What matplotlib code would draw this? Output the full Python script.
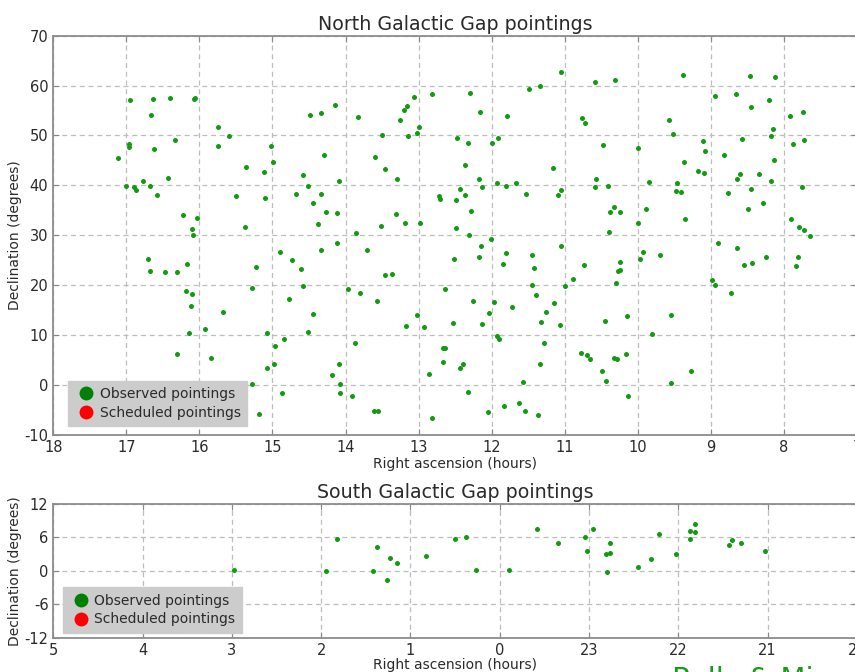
import matplotlib
matplotlib.use('Agg')
import matplotlib.pyplot as plt
from matplotlib.lines import Line2D

plt.rcParams['axes.unicode_minus'] = False

# North Galactic Gap pointings: right ascension (hours), declination (degrees)
north_ra = [
    17.11, 17.01, 16.95, 16.96, 16.96, 16.89, 16.87, 16.77, 16.67, 16.66,
    16.63, 16.62, 16.58, 16.43, 16.40, 16.34, 16.23, 16.10, 16.09, 16.08,
    16.06, 16.03, 15.75, 15.75, 15.60, 15.50, 15.36, 15.37, 15.12, 15.10,
    15.02, 14.99, 14.68, 14.58, 14.52, 14.49, 14.45, 14.38, 14.33, 14.33,
    14.29, 14.27, 14.14, 14.12, 14.09, 14.12, 13.85, 13.83, 13.59, 13.50,
    13.51, 13.46, 13.30, 13.31, 13.25, 13.20, 13.16, 13.19, 13.14, 13.06,
    13.02, 13.00, 12.98,
    12.82, 12.72, 12.71, 12.49, 12.48, 12.49, 12.44, 12.37, 12.36, 12.33,
    12.30, 12.31, 12.28, 12.17, 12.16, 12.13, 12.14, 12.01, 11.99, 11.91,
    11.92, 11.80, 11.79, 11.67, 11.53, 11.49, 11.34, 11.16, 11.09, 11.05,
    11.05, 11.05, 10.76, 10.72, 10.59, 10.57, 10.58, 10.48, 10.41, 10.40,
    10.38, 10.32, 10.25, 10.31, 10.00, 10.00, 9.89, 9.84, 9.57, 9.52,
    9.46, 9.48, 9.41, 9.38, 9.37, 9.35, 9.18, 9.11, 9.10, 9.08,
    8.94, 8.90, 8.82, 8.77, 8.65, 8.64, 8.64, 8.60, 8.57, 8.49,
    8.46, 8.45, 8.45, 8.34, 8.29, 8.21, 8.18, 8.17, 8.15, 8.14,
    8.12, 7.92, 7.90, 7.87, 7.80, 7.72, 7.75, 7.74, 7.73, 7.64,
    16.70, 16.68, 16.47, 16.31, 16.31, 16.17, 16.19, 16.10, 16.12, 16.14,
    15.93, 15.84, 15.68, 15.28, 15.23, 15.28, 15.18, 15.08, 15.08, 14.98,
    14.97, 14.90, 14.87, 14.84, 14.78, 14.73, 14.61, 14.58, 14.51, 14.44,
    14.34, 14.18, 14.09, 14.08, 14.08, 13.96, 13.91, 13.87, 13.80, 13.71,
    13.61, 13.55, 13.57, 13.46, 13.36, 13.17, 13.02, 12.93, 12.86,
    12.82, 12.64, 12.67, 12.64, 12.67, 12.52, 12.53, 12.43, 12.39, 12.32,
    12.26, 12.17, 12.13, 12.04, 12.05, 11.97, 11.92, 11.90, 11.85, 11.83,
    11.81, 11.72, 11.62, 11.57, 11.54, 11.45, 11.45, 11.42, 11.39, 11.37,
    11.34, 11.33, 11.29, 11.25, 11.14, 11.07, 10.99, 10.88, 10.78, 10.74,
    10.70, 10.66, 10.49, 10.45, 10.43, 10.33, 10.29, 10.30, 10.27, 10.24,
    10.25, 10.16, 10.15, 10.14, 9.97, 9.93, 9.80, 9.69, 9.54, 9.54,
    9.27, 8.98, 8.94, 8.73, 8.54, 8.44, 8.25, 7.84, 7.81,
]
north_dec = [
    45.5, 39.9, 57.1, 48.2, 47.7, 39.6, 39.0, 40.9, 39.8, 54.0,
    57.4, 47.3, 38.1, 41.5, 57.6, 49.0, 34.1, 31.3, 30.0, 57.4,
    57.5, 33.4, 51.6, 47.8, 49.9, 37.9, 43.6, 31.7, 42.6, 37.5,
    47.8, 44.7, 38.3, 42.0, 39.9, 54.1, 36.4, 32.3, 54.4, 38.3,
    46.1, 34.7, 56.2, 34.5, 40.9, 28.4, 30.5, 53.6, 45.6, 50.1,
    31.8, 43.3, 41.2, 34.3, 53.0, 55.2, 55.9, 32.4, 49.9, 57.8,
    50.4, 51.6, 32.4,
    58.4, 37.8, 37.3, 37.0, 49.5, 31.5, 39.2, 44.1, 38.1, 48.5,
    58.6, 30.1, 34.8, 41.3, 54.7, 39.7, 27.8, 29.2, 48.4, 49.5,
    40.5, 39.9, 53.9, 40.5, 38.2, 59.4, 60.0, 43.5, 38.1, 39.0,
    62.7, 27.9, 53.4, 52.5, 60.8, 41.2, 39.6, 48.0, 39.8, 30.7,
    34.6, 35.7, 34.7, 61.2, 47.4, 32.4, 35.2, 40.6, 53.1, 50.2,
    40.4, 38.9, 38.7, 62.2, 44.7, 33.3, 42.8, 48.8, 42.5, 46.8,
    57.9, 28.5, 46.1, 38.5, 58.4, 41.3, 27.5, 42.3, 49.2, 35.3,
    61.9, 55.8, 39.2, 42.3, 36.5, 57.2, 40.8, 49.8, 51.3, 45.0,
    61.7, 53.8, 33.2, 48.2, 31.7, 31.1, 39.6, 54.7, 49.0, 29.9,
    25.2, 22.8, 22.7, 22.7, 6.1, 24.2, 18.8, 18.2, 15.8, 10.3,
    11.1, 5.3, 14.7, 19.4, 23.6, 0.1, -5.8, 10.3, 3.3, 4.1,
    7.7, 26.7, -1.6, 9.1, 17.3, 25.0, 23.2, 19.8, 10.5, 14.3,
    27.1, 1.9, 4.1, 0.1, -1.6, 19.2, -2.3, 8.4, 18.5, 27.1,
    -5.3, -5.3, 16.8, 22.1, 22.2, 11.8, 14.1, 11.6, 2.2,
    -6.7, 19.3, 7.4, 7.3, 4.6, 25.2, 12.3, 3.4, 4.1, -1.4,
    16.8, 25.7, 12.1, 14.4, -5.5, 16.6, 9.7, 9.1, 24.2, -4.2,
    26.5, 15.7, -3.6, 0.5, -5.2, 26.1, 20.0, 23.5, 18.0, -6.0,
    4.1, 12.5, 8.4, 14.6, 16.4, 11.9, 19.8, 21.2, 6.3, 24.0,
    6.0, 5.1, 2.8, 12.8, 0.7, 5.4, 5.1, 20.5, 22.8, 23.0,
    24.7, 6.2, 13.8, -2.3, 25.2, 26.6, 10.2, 26.0, 14.1, 0.4,
    2.7, 21.1, 20.0, 18.5, 24.1, 24.5, 25.6, 23.9, 25.7,
]

# South Galactic Gap pointings
south_ra = [
    2.98, 1.95, 1.82, 1.42, 1.37, 1.26, 1.23, 1.15, 0.83, 0.50,
    0.38, 0.27, 23.90, 23.58, 23.35, 23.04, 23.02, 22.96, 22.81, 22.77,
    22.77, 22.80, 22.45, 22.31, 22.22, 22.03, 21.87, 21.87, 21.81, 21.81,
    21.43, 21.40, 21.30, 21.03,
]
south_dec = [
    0.2, 0.05, 5.8, 0.0, 4.3, -1.6, 2.3, 1.5, 2.6, 5.8,
    6.0, 0.2, 0.2, 7.5, 5.1, 6.1, 3.5, 7.6, 3.1, 3.3,
    5.0, -0.1, 0.7, 2.2, 6.7, 3.1, 7.2, 5.8, 6.9, 8.5,
    4.7, 5.6, 5.0, 3.6,
]

north_xticks = list(range(18, 6, -1))
north_yticks = list(range(-10, 71, 10))
south_xticks = [5, 4, 3, 2, 1, 0, 23, 22, 21, 20]
south_yticks = [-12, -6, 0, 6, 12]

TEXT = '#2a2a2a'
DOT = '#139a13'


def unwrap(h):
    # keep RA continuous across 0h so the south panel runs 5 -> 20
    return h if h < 12 else h - 24


def style(ax):
    ax.grid(True, linestyle='--', color='#bdbdbd', linewidth=0.9, dashes=(4, 3))
    ax.set_axisbelow(True)
    ax.tick_params(direction='in', top=True, right=True, length=4,
                   color='#888888', labelsize=10.5, labelcolor=TEXT)
    for s in ax.spines.values():
        s.set_color('#8c8c8c')
        s.set_linewidth(1.3)


def add_legend(ax, anchor):
    handles = [
        Line2D([], [], marker='o', ls='', color='#008000', ms=9,
               label='Observed pointings'),
        Line2D([], [], marker='o', ls='', color='#ff0000', ms=9,
               label='Scheduled pointings'),
    ]
    leg = ax.legend(handles=handles, loc='lower left', bbox_to_anchor=anchor,
                    borderaxespad=0, facecolor='#cccccc', edgecolor='#cccccc',
                    framealpha=1, fancybox=False, fontsize=10,
                    handletextpad=0.2, handlelength=1.6, borderpad=0.45,
                    labelspacing=0.35)
    for t in leg.get_texts():
        t.set_color(TEXT)


fig = plt.figure(figsize=(8.55, 6.72), dpi=100)

ax1 = fig.add_axes([0.0623, 0.3531, 0.940, 0.5938])
ax1.plot(north_ra, north_dec, 'o', color=DOT, ms=3.6, mew=0)
ax1.set_xlim(18, 7)
ax1.set_ylim(-10, 70)
ax1.set_xticks(north_xticks)
ax1.set_yticks(north_yticks)
style(ax1)
ax1.set_title('North Galactic Gap pointings', fontsize=13.7, color=TEXT, pad=4)
ax1.set_xlabel('Right ascension (hours)', fontsize=10, color=TEXT, labelpad=2)
ax1.set_ylabel('Declination (degrees)', fontsize=10, color=TEXT, labelpad=2)
add_legend(ax1, (0.0187, 0.0218))

ax2 = fig.add_axes([0.0623, 0.0506, 0.940, 0.1994])
ax2.plot([unwrap(h) for h in south_ra], south_dec, 'o', color=DOT, ms=3.6, mew=0)
ax2.set_xlim(5, -4)
ax2.set_ylim(-12, 12)
ax2.set_xticks([unwrap(h) for h in south_xticks])
ax2.set_xticklabels([str(h) for h in south_xticks])
ax2.set_yticks(south_yticks)
style(ax2)
ax2.set_title('South Galactic Gap pointings', fontsize=13.7, color=TEXT, pad=4)
ax2.set_xlabel('Right ascension (hours)', fontsize=10, color=TEXT, labelpad=0)
ax2.set_ylabel('Declination (degrees)', fontsize=10, color=TEXT, labelpad=2)
add_legend(ax2, (0.0124, 0.04))

# slide footer, cut by the bottom edge
fig.text(0.786, -0.032, 'Pulls & Mi', fontsize=21, color='#1c9a1c',
         ha='left', va='bottom')

fig.savefig('out.png', dpi=100)
